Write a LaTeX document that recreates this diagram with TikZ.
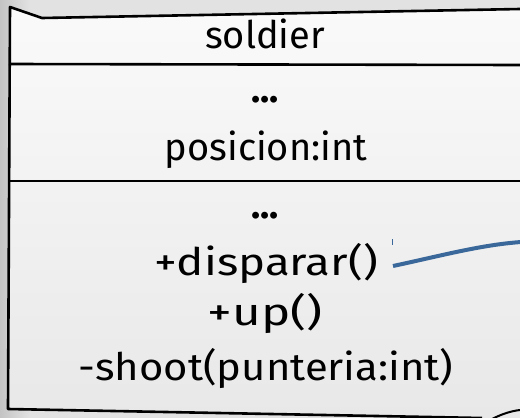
\documentclass[tikz,border=0pt]{standalone}
\usepackage{fontspec}
\setmainfont{Fira Sans}
\definecolor{bgdark}{RGB}{196,196,196}
\definecolor{bglight}{RGB}{226,226,226}
\definecolor{boxtop}{RGB}{250,250,250}
\definecolor{boxbot}{RGB}{232,232,232}
\definecolor{linkblue}{RGB}{58,104,154}
\begin{document}
\begin{tikzpicture}[x=1pt,y=-1pt,
  txt/.style={font=\fontsize{38}{40}\selectfont, text=black, inner sep=0pt},
  edge/.style={line width=2.6pt, black, line join=round},
  link/.style={line width=4pt, draw=linkblue}]
\useasboundingbox (0,0) rectangle (520,418);
\fill[left color=bgdark, right color=bglight] (0,0) rectangle (30,418);
\fill[bglight] (30,0) rectangle (520,418);
\shade[top color=boxtop, bottom color=boxbot]
  (10,7) -- (42,18) -- (520,9) -- (520,418) -- (480,418) -- (8,409) -- cycle;
\draw[edge] (520,9) -- (42,18) -- (10,7) -- (8,409) -- (482,418);
\draw[edge] (9,64) -- (520,65);
\draw[edge] (8,181) -- (520,181);
\draw[edge, line width=2pt] (492,419) .. controls (502,414) and (511,411) .. (520,410);
\node[txt] (name) at (265,34) {soldier};
\node[txt] (dots1) at (265,100) {\textbf{...}};
\node[txt] (attr) at (266,150) {posicion:int};
\node[txt] (dots2) at (265,216) {\textbf{...}};
\node[txt, xscale=1.2, transform shape] (m1) at (266,263) {+disparar()};
\node[txt, xscale=1.3, transform shape] (m2) at (265,313) {+up()};
\node[txt, xscale=1.1, transform shape] (m3) at (266,368) {-shoot(punteria:int)};
\coordinate (lstart) at (393,266);
\coordinate (lend) at (521,242);
\draw[link] (lstart) .. controls (440,256) and (480,245) .. (lend);
\draw[line width=0.8pt, draw=linkblue] (392,239) -- (392,245);
\end{tikzpicture}
\end{document}
